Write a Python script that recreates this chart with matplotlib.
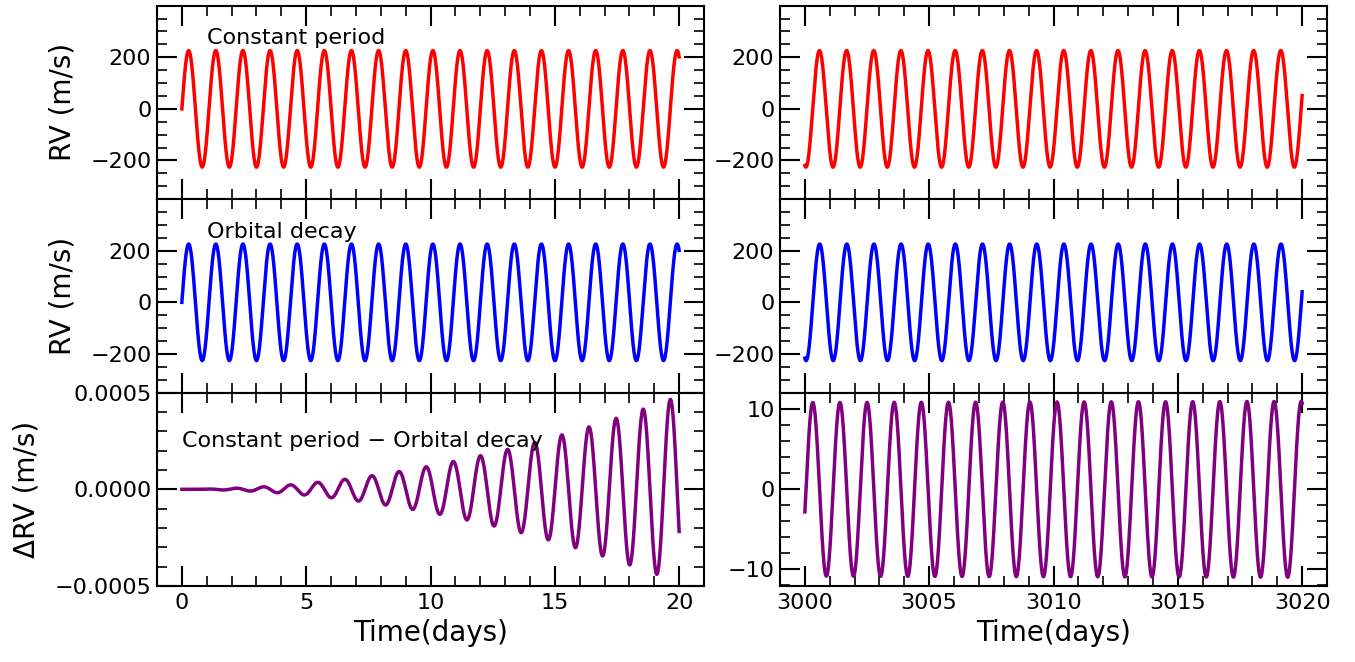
import numpy as np
import matplotlib.pyplot as plt
from matplotlib.ticker import MultipleLocator, FixedLocator

# ---------------------------------------------------------------
# model parameters
K = 226.0              # RV semi-amplitude (m/s)
P0 = 1.0914203         # orbital period (days)
Pdot = 2.02e-9         # period change (days/day) for the decay model
t_windows = [(0.0, 20.0), (3000.0, 3020.0)]
n_samples = 4000

rv_ticks = [-200, 0, 200]
row_labels = ['RV (m/s)', 'RV (m/s)', '\u0394RV (m/s)']
row_texts = ['Constant period', 'Orbital decay', 'Constant period \u2212 Orbital decay']
row_colors = ['red', 'blue', 'purple']
# ---------------------------------------------------------------


def rv(t, pdot):
    phase = t / P0 - 0.5 * pdot * t**2 / P0**2
    return K * np.sin(2 * np.pi * phase)


W, H = 1355, 662
fig = plt.figure(figsize=(W / 100, H / 100), dpi=100)

col_left = [157, 780]
col_width = 547
top = 5.7
row_h = 193.45

axes = np.empty((3, 2), dtype=object)
for r in range(3):
    for c in range(2):
        x0 = col_left[c] / W
        y0 = 1 - (top + (r + 1) * row_h) / H
        axes[r, c] = fig.add_axes([x0, y0, col_width / W, row_h / H])

for c, (t0, t1) in enumerate(t_windows):
    t = np.linspace(t0, t1, n_samples)
    rv_const = rv(t, 0.0)
    rv_decay = rv(t, Pdot)
    curves = [rv_const, rv_decay, rv_const - rv_decay]
    for r in range(3):
        ax = axes[r, c]
        ax.plot(t, curves[r], color=row_colors[r], lw=2.5)
        ax.set_xlim(t0 - 1, t1 + 1)
        ax.xaxis.set_major_locator(MultipleLocator(5))
        ax.xaxis.set_minor_locator(MultipleLocator(1))
        if r < 2:
            ax.set_ylim(-350, 400)
            ax.yaxis.set_major_locator(FixedLocator(rv_ticks))
            ax.yaxis.set_minor_locator(MultipleLocator(50))
            ax.tick_params(labelbottom=False)
        if c == 0:
            ax.set_ylabel(row_labels[r], fontsize=20, labelpad=10)

axes[2, 0].set_ylim(-0.0005, 0.0005)
axes[2, 0].yaxis.set_major_locator(MultipleLocator(0.0005))
axes[2, 0].yaxis.set_minor_locator(MultipleLocator(0.0001))
axes[2, 1].yaxis.set_major_locator(MultipleLocator(10))
axes[2, 1].yaxis.set_minor_locator(MultipleLocator(2))

axes[0, 0].text(1, 250, row_texts[0], fontsize=16)
axes[1, 0].text(1, 250, row_texts[1], fontsize=16)
axes[2, 0].text(0, 0.00022, row_texts[2], fontsize=16)

for ax in axes.flat:
    ax.tick_params(which='both', direction='in', top=True, right=True,
                   labelsize=16)
    ax.tick_params(which='major', length=14.5, width=1.5)
    ax.tick_params(which='minor', length=7.2, width=1.2)
    ax.tick_params(axis='x', pad=5)
    ax.tick_params(axis='y', pad=4)
    for sp in ax.spines.values():
        sp.set_linewidth(1.5)

for c in range(2):
    axes[2, c].set_xlabel('Time(days)', fontsize=20)

fig.savefig('out.png', dpi=100)
